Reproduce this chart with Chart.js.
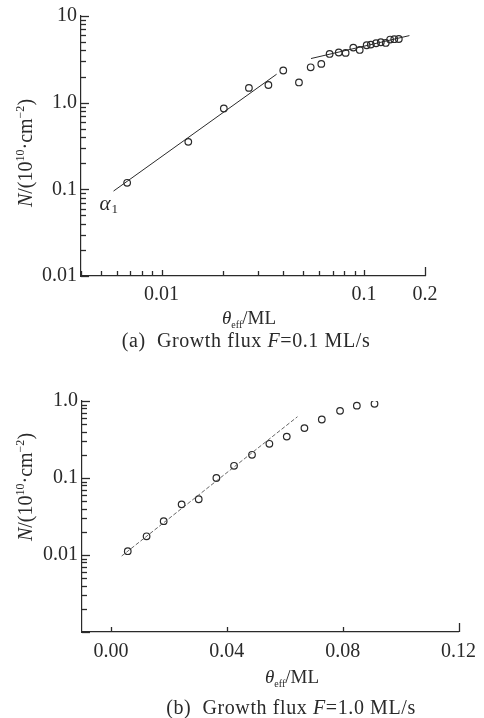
<!DOCTYPE html>
<html>
<head>
<meta charset="utf-8">
<script src="https://cdn.jsdelivr.net/npm/chart.js@4.4.0/dist/chart.umd.min.js"></script>
<style>
body{margin:0;background:#fff;width:484px;height:718px;position:relative;overflow:hidden;font-family:"Liberation Serif","DejaVu Serif",serif;color:#2a2a2a}
canvas{position:absolute;left:0}
#ca{top:0}
#cb{top:320px}
.lbl{position:absolute;white-space:nowrap;transform:translate(-50%,-50%);font-size:19px;line-height:1}
.cap{font-size:20px;letter-spacing:0.6px}
.rot{transform:translate(-50%,-50%) rotate(-90deg);font-size:20px}
.lbl i{font-style:italic}
sup{font-size:12px;vertical-align:8px;line-height:0}
sub{font-size:10px;vertical-align:-4px;line-height:0}
</style>
</head>
<body>
<canvas id="ca" width="484" height="320"></canvas>
<canvas id="cb" width="484" height="398"></canvas>

<div class="lbl rot" style="left:25px;top:153px"><i>N</i>/(10<sup>10</sup>·cm<sup>−2</sup>)</div>
<div class="lbl" style="left:249px;top:317px"><i>θ</i><sub>eff</sub>/ML</div>
<div class="lbl cap" style="left:246px;top:340px">(a)&nbsp; Growth flux <i>F</i>=0.1 ML/s</div>

<div class="lbl rot" style="left:25px;top:487px"><i>N</i>/(10<sup>10</sup>·cm<sup>−2</sup>)</div>
<div class="lbl" style="left:292px;top:676px"><i>θ</i><sub>eff</sub>/ML</div>
<div class="lbl cap" style="left:291px;top:707px">(b)&nbsp; Growth flux <i>F</i>=1.0 ML/s</div>

<script>
// (a) F = 0.1 ML/s, log-log
const thetaA = [0.00676,0.01355,0.0203,0.027,0.0337,0.0399,0.0477,0.0545,0.0615,0.0676,0.075,0.0811,0.0885,0.0952,0.103,0.108,0.1146,0.121,0.128,0.1345,0.141,0.1485];
const densA  = [0.119,0.353,0.857,1.48,1.60,2.35,1.71,2.56,2.80,3.65,3.79,3.75,4.32,4.06,4.60,4.68,4.85,4.98,4.89,5.35,5.40,5.43];
const fit1X = [0.00579,0.037];
const fit1Y = [0.0955,2.13];
const fit2X = [0.0547,0.1675];
const fit2Y = [3.23,5.94];
const alphaAt = [0.0054,0.066];
const xTicksA = [0.004,0.005,0.006,0.007,0.008,0.009,0.01,0.02,0.03,0.04,0.05,0.06,0.07,0.08,0.09,0.1,0.2];
const xLabelsA = ['0.01','0.1','0.2'];
const yDecadesA = [0.01,0.1,1,10];
const yLabelsA = ['0.01','0.1','1.0','10'];

// (b) F = 1.0 ML/s, linear x, log y
const thetaB = [0.0058,0.0123,0.0182,0.0244,0.0303,0.0364,0.0425,0.0487,0.0547,0.0607,0.0668,0.0728,0.0791,0.0849,0.091];
const densB  = [0.0112,0.0175,0.0275,0.0455,0.053,0.100,0.144,0.200,0.278,0.345,0.445,0.575,0.745,0.87,0.92];
const fitBX = [0.0037,0.0644];
const fitBY = [0.0097,0.625];
const xTicksB = [0,0.04,0.08,0.12];
const yDecadesB = [0.001,0.01,0.1,1];
const yLabelsB = ['0.01','0.1','1.0'];

const INK = '#2a2a2a';
const tickFont = {family:'"Liberation Serif", "DejaVu Serif", serif', size:20};

const pts = (xs, ys) => xs.map((x,i)=>({x, y:ys[i]}));
const near = (a,b) => Math.abs(a-b) < Math.abs(b)*1e-6;
const labelFor = list => v => { const s = list.find(t=>near(v, parseFloat(t))); return s === undefined ? '' : s; };
const isDecade = (list, v) => list.some(d=>near(v,d));
// decade ticks plus 2..9 minor ticks inside each decade
const logTicks = decades => {
  const out = [];
  decades.forEach((d,i)=>{
    out.push({value:d});
    if (i < decades.length-1) for (let m=2; m<10; m++) out.push({value:+(d*m).toPrecision(3)});
  });
  return out;
};

// tick marks pointing into the plot
const inTicks = {
  id:'inTicks',
  afterDraw(chart, args, o){
    const ctx = chart.ctx, a = chart.chartArea, sx = chart.scales.x, sy = chart.scales.y;
    ctx.save();
    ctx.strokeStyle = INK; ctx.lineWidth = 1.3;
    sx.ticks.forEach((t,i)=>{
      const px = Math.round(sx.getPixelForValue(t.value)) + 0.5;
      let len = t.label ? o.xMajor : o.xMinor;
      if (i === sx.ticks.length-1) len = o.xEnd;
      ctx.beginPath(); ctx.moveTo(px, a.bottom); ctx.lineTo(px, a.bottom - len); ctx.stroke();
    });
    sy.ticks.forEach(t=>{
      const py = Math.round(sy.getPixelForValue(t.value)) + 0.5;
      const len = isDecade(o.decades, t.value) ? o.yMajor : o.yMinor;
      ctx.beginPath(); ctx.moveTo(a.left, py); ctx.lineTo(a.left + len, py); ctx.stroke();
    });
    if (o.alpha) {
      const x = sx.getPixelForValue(o.alpha[0]), y = sy.getPixelForValue(o.alpha[1]);
      ctx.fillStyle = INK; ctx.textBaseline = 'middle'; ctx.textAlign = 'left';
      ctx.font = 'italic 21px "Liberation Serif", serif';
      ctx.fillText('α', x-8, y);
      ctx.font = '13px "Liberation Serif", serif';
      ctx.fillText('1', x+4, y+5);
    }
    ctx.restore();
  }
};

const circles = {type:'scatter', pointStyle:'circle', pointRadius:3.3, borderColor:INK, backgroundColor:'rgba(255,255,255,0)', borderWidth:1.2, showLine:false};
const fitLine = {type:'line', borderColor:INK, borderWidth:1, pointRadius:0, fill:false, tension:0};

const commonScale = {
  grid:{display:false, drawTicks:false},
  border:{display:true, color:INK, width:1.2},
  ticks:{color:INK, font:tickFont, autoSkip:false, maxRotation:0}
};

new Chart(document.getElementById('ca'), {
  type:'scatter',
  data:{datasets:[
    Object.assign({data:pts(fit1X, fit1Y)}, fitLine),
    Object.assign({data:pts(fit2X, fit2Y)}, fitLine),
    Object.assign({data:pts(thetaA, densA)}, circles)
  ]},
  options:{
    responsive:false, animation:false, events:[],
    layout:{padding:{left:0, top:16, right:59, bottom:0}},
    plugins:{legend:{display:false}, tooltip:{enabled:false},
      inTicks:{xMajor:6, xMinor:5, xEnd:9, yMajor:8, yMinor:5, decades:yDecadesA, alpha:alphaAt}},
    scales:{
      x:Object.assign({}, commonScale, {type:'logarithmic', min:0.004, max:0.2,
        afterBuildTicks:s=>{ s.ticks = xTicksA.map(v=>({value:v})); },
        afterFit:s=>{ s.height = 44; },
        ticks:Object.assign({}, commonScale.ticks, {padding:7, callback:labelFor(xLabelsA)})}),
      y:Object.assign({}, commonScale, {type:'logarithmic', min:0.01, max:10,
        afterBuildTicks:s=>{ s.ticks = logTicks(yDecadesA); },
        afterFit:s=>{ s.width = 81; },
        ticks:Object.assign({}, commonScale.ticks, {padding:4, callback:labelFor(yLabelsA)})})
    }
  },
  plugins:[inTicks]
});

new Chart(document.getElementById('cb'), {
  type:'scatter',
  data:{datasets:[
    Object.assign({data:pts(fitBX, fitBY), borderDash:[4,2], borderColor:'#555', borderWidth:0.9}, {type:'line', pointRadius:0, fill:false}),
    Object.assign({data:pts(thetaB, densB)}, circles)
  ]},
  options:{
    responsive:false, animation:false, events:[],
    layout:{padding:{left:0, top:81, right:24, bottom:0}},
    plugins:{legend:{display:false}, tooltip:{enabled:false},
      inTicks:{xMajor:5, xMinor:5, xEnd:9, yMajor:8, yMinor:5, decades:yDecadesB}},
    scales:{
      x:Object.assign({}, commonScale, {type:'linear', min:-0.01, max:0.12,
        afterBuildTicks:s=>{ s.ticks = xTicksB.map(v=>({value:v})); },
        afterFit:s=>{ s.height = 86; },
        ticks:Object.assign({}, commonScale.ticks, {padding:8, callback:v=>v.toFixed(2)})}),
      y:Object.assign({}, commonScale, {type:'logarithmic', min:0.001, max:1,
        afterBuildTicks:s=>{ s.ticks = logTicks(yDecadesB); },
        afterFit:s=>{ s.width = 82; },
        ticks:Object.assign({}, commonScale.ticks, {padding:4, callback:labelFor(yLabelsB)})})
    }
  },
  plugins:[inTicks]
});
</script>
</body>
</html>
